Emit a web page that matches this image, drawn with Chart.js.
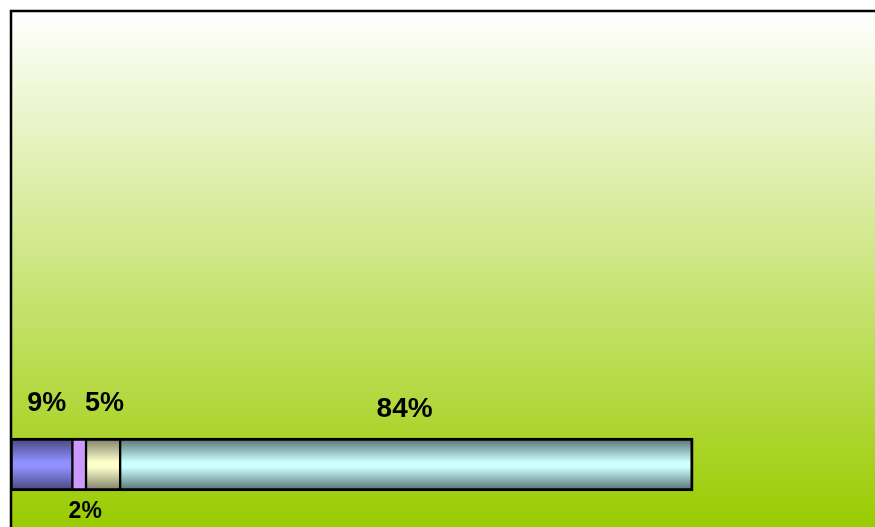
<!DOCTYPE html>
<html>
<head>
<meta charset="utf-8">
<script src="https://cdn.jsdelivr.net/npm/chart.js@4/dist/chart.umd.min.js"></script>
<style>
  html, body { margin: 0; padding: 0; background: #fff; }
  #wrap { width: 875px; height: 527px; overflow: hidden; position: relative; }
  #chart { position: absolute; left: 0; top: 0; }
</style>
</head>
<body>
<div id="wrap">
  <canvas id="chart" width="966" height="918"></canvas>
</div>
<script>
// share of each part, in percent
const categories = [''];
const seriesNames = ['A', 'B', 'C', 'D'];
const seriesValues = [9, 2, 5, 84];

// bar colours: [edge, middle] of the shaded cylinder look
const barShades = [
  ['#45457a', '#9090ff'],
  ['#cc99ff', '#cc99ff'],
  ['#7a7a64', '#ffffcc'],
  ['#526e6e', '#ccffff']
];

// label placement around each segment
const labelStyle = [
  { side: 'above', dx: 5, dy: -34, size: 27 },
  { side: 'below', dx: 6, dy: 21, size: 23 },
  { side: 'above', dx: 1.5, dy: -34, size: 27 },
  { side: 'above', dx: -2, dy: -29, size: 28 }
];

const BAR_H = 53;

function shadedFill(i) {
  return function (ctx) {
    const chart = ctx.chart;
    if (!chart.chartArea || !chart.scales.y) return barShades[i][1];
    const yc = chart.scales.y.getPixelForValue(0);
    const top = yc - BAR_H / 2, bottom = yc + BAR_H / 2;
    const g = chart.ctx.createLinearGradient(0, top, 0, bottom);
    const [edge, mid] = barShades[i];
    g.addColorStop(0, edge);
    g.addColorStop(0.45, mid);
    g.addColorStop(0.55, mid);
    g.addColorStop(1, edge);
    return g;
  };
}

const plotBackground = {
  id: 'plotBackground',
  beforeDraw(chart) {
    const { ctx, chartArea: a } = chart;
    const g = ctx.createLinearGradient(0, a.top, 0, 527);
    g.addColorStop(0, '#ffffff');
    g.addColorStop(1, '#99cc00');
    ctx.save();
    ctx.fillStyle = g;
    ctx.fillRect(a.left, a.top, a.right - a.left, a.bottom - a.top);
    ctx.restore();
  },
  afterDraw(chart) {
    const { ctx, chartArea: a } = chart;
    ctx.save();
    ctx.strokeStyle = '#000';
    ctx.lineWidth = 2.5;
    ctx.strokeRect(a.left, a.top, a.right - a.left, a.bottom - a.top);
    ctx.restore();
  }
};

const segmentLabels = {
  id: 'segmentLabels',
  afterDatasetsDraw(chart) {
    const ctx = chart.ctx;
    ctx.save();
    ctx.fillStyle = '#000';
    ctx.textAlign = 'center';
    ctx.textBaseline = 'middle';
    chart.data.datasets.forEach((ds, i) => {
      const el = chart.getDatasetMeta(i).data[0];
      const st = labelStyle[i];
      const cx = (el.x + el.base) / 2 + st.dx;
      const edgeY = st.side === 'above' ? el.y - BAR_H / 2 : el.y + BAR_H / 2;
      ctx.font = 'bold ' + st.size + 'px "Liberation Sans", Arial, sans-serif';
      ctx.fillText(ds.data[0] + '%', cx, edgeY + st.dy);
    });
    ctx.restore();
  }
};

const datasets = seriesValues.map((v, i) => ({
  label: seriesNames[i],
  data: [v],
  backgroundColor: shadedFill(i),
  borderColor: '#000',
  borderWidth: {
    top: 3, bottom: 3,
    left: i === 0 ? 2 : 1.5,
    right: i === seriesValues.length - 1 ? 3 : 1.5
  },
  borderSkipped: false,
  barThickness: BAR_H
}));

new Chart(document.getElementById('chart'), {
  type: 'bar',
  data: { labels: categories, datasets: datasets },
  options: {
    indexAxis: 'y',
    responsive: false,
    animation: false,
    layout: { padding: { left: 11, top: 11, right: 0, bottom: 0 } },
    plugins: {
      legend: { display: false },
      tooltip: { enabled: false }
    },
    scales: {
      x: { stacked: true, min: 0, max: 140, display: false },
      y: { stacked: true, display: false }
    }
  },
  plugins: [plotBackground, segmentLabels]
});
</script>
</body>
</html>
